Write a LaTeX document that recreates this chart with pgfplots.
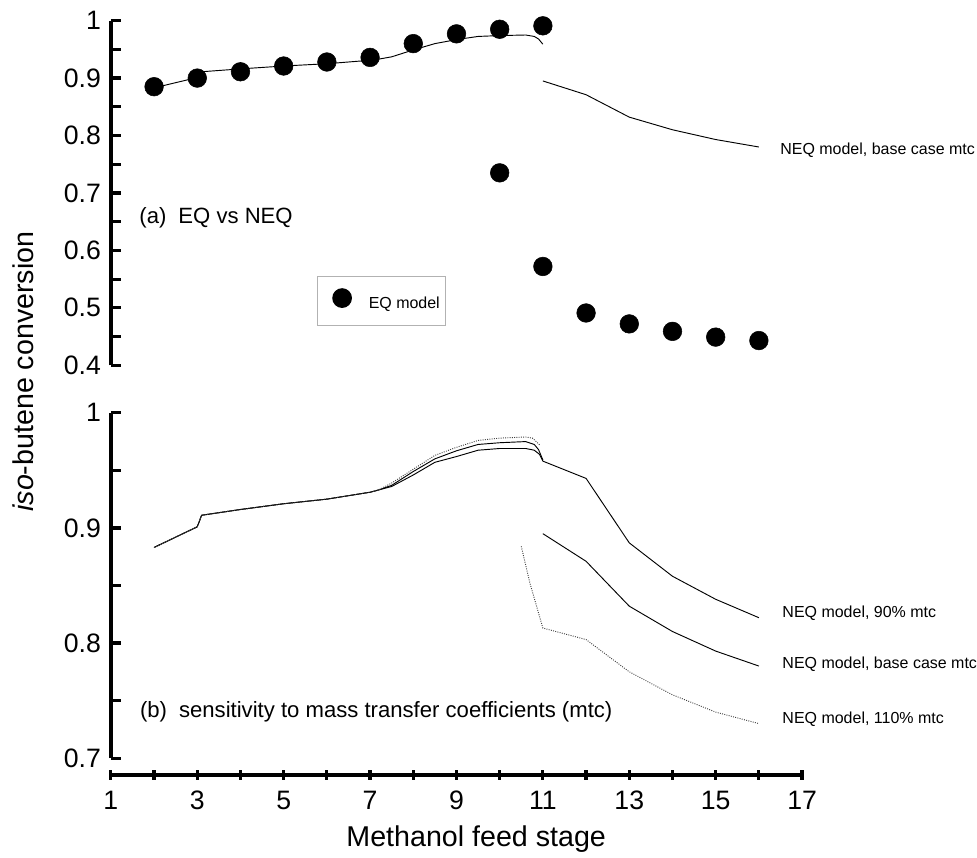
\documentclass[border=0pt]{standalone}
\usepackage{fontspec}
\setmainfont{Liberation Sans}
\usepackage{pgfplots}
\pgfplotsset{compat=1.18}

\pgfplotsset{
  panel/.style={
    scale only axis, width=519pt,
    xmin=1, xmax=17,
    axis y line=left,
    tick align=inside,
    major tick length=7.5pt, minor tick length=7.5pt,
    tick label style={font=\fontsize{20}{24}\selectfont},
    /pgf/number format/assume math mode=true,
    yticklabel style={/pgf/number format/fixed, /pgf/number format/precision=1, xshift=-4pt},
    clip=false,
  },
  thicklines/.style={
    every outer x axis line/.append style={-, line width=3pt},
    every outer y axis line/.append style={-, line width=3pt},
    every inner x axis line/.append style={-, line width=3pt},
    every inner y axis line/.append style={-, line width=3pt},
    every tick/.append style={black, line width=2.4pt},
    major tick style={black, line width=2.4pt},
    minor tick style={black, line width=2.4pt},
  },
  neq/.style={black, line width=0.7pt},
  neqdot/.style={black!75, line width=0.7pt, densely dotted},
}

\begin{document}
\begin{tikzpicture}
\path (-83.25pt,15.5pt) rectangle (649.5pt,-625pt);

% (a) EQ vs NEQ
\begin{axis}[panel, at={(0pt,0pt)}, anchor=north west,
  height=258.75pt, ymin=0.4, ymax=1,
  axis x line=none,
  thicklines,
  ytick={0.4,0.5,0.6,0.7,0.8,0.9,1},
  minor ytick={0.45,0.55,0.65,0.75,0.85,0.95},
  legend style={at={(axis cs:5.77,0.555)}, anchor=north west,
    draw=gray!60, line width=0.8pt, font=\fontsize{12}{14}\selectfont,
    inner xsep=2pt, inner ysep=9pt},
  legend image code/.code={\path[draw=none, fill=none] (0pt,-3pt) rectangle (34.5pt,3pt);
    \draw[#1] plot coordinates {(16.5pt,4.5pt)};},
]
\addplot[only marks, mark=*, mark size=7pt, black] coordinates {
  (2,0.885) (3,0.900) (4,0.911) (5,0.921) (6,0.928) (7,0.936) (8,0.960)
  (9,0.977) (10,0.985) (11,0.991) (10,0.735) (11,0.572) (12,0.491)
  (13,0.472) (14,0.459) (15,0.449) (16,0.443)
};
\addlegendentry{EQ model}
\addplot[neq, forget plot] coordinates {
  (2,0.883) (3,0.901) (3.1,0.911) (4,0.916) (5,0.921) (6,0.925) (7,0.931)
  (7.2,0.933) (7.5,0.937) (8,0.949) (8.5,0.960) (9,0.967) (9.5,0.9725)
  (10,0.974) (10.6,0.975) (10.8,0.9725) (10.9,0.968) (11,0.959)
};
\addplot[neq, forget plot] coordinates {
  (11,0.895) (12,0.871) (13,0.832) (14,0.810) (15,0.793) (16,0.780)
};
\node[anchor=west, inner sep=0pt, font=\fontsize{12}{14}\selectfont] at (axis cs:16.49,0.775) {NEQ model, base case mtc};
\node[anchor=west, inner sep=0pt, font=\fontsize{16.6}{19}\selectfont] at (axis cs:1.655,0.657) {(a)\hspace{9pt}EQ vs NEQ};
\end{axis}

% (b) sensitivity
\begin{axis}[panel, at={(0pt,-294.45pt)}, anchor=north west,
  height=259.3pt, ymin=0.7, ymax=1,
  axis x line=bottom, axis x line shift=12.45pt,
  thicklines,
  xtick={1,3,...,17}, minor xtick={2,4,...,16},
  xticklabel style={yshift=-5pt},
  ytick={0.7,0.8,0.9,1},
  minor ytick={0.75,0.85,0.95},
]
% 90% mtc
\addplot[neq] coordinates {
  (2,0.883) (3,0.901) (3.1,0.911) (4,0.916) (5,0.921) (6,0.925) (7,0.931)
  (7.2,0.933) (7.5,0.936) (8,0.946) (8.5,0.957) (9,0.962) (9.5,0.9675)
  (10,0.969) (10.6,0.969) (10.8,0.9675) (10.92,0.964) (11,0.958)
  (12,0.943) (13,0.887) (14,0.858) (15,0.838) (16,0.822)
};
% base case mtc
\addplot[neq] coordinates {
  (2,0.883) (3,0.901) (3.1,0.911) (4,0.916) (5,0.921) (6,0.925) (7,0.931)
  (7.2,0.933) (7.5,0.937) (8,0.949) (8.5,0.960) (9,0.967) (9.5,0.9725)
  (10,0.974) (10.6,0.975) (10.8,0.9725) (10.9,0.968) (11,0.959)
};
\addplot[neq] coordinates {
  (11,0.895) (12,0.871) (13,0.832) (14,0.810) (15,0.793) (16,0.780)
};
% 110% mtc
\addplot[neqdot] coordinates {
  (2,0.883) (3,0.901) (3.1,0.911) (4,0.916) (5,0.921) (6,0.925) (7,0.931)
  (7.2,0.933) (7.5,0.939) (8,0.951) (8.5,0.963) (9,0.970) (9.5,0.976)
  (10,0.978) (10.6,0.979) (10.76,0.978) (10.93,0.972)
};
\addplot[neqdot] coordinates {
  (10.5,0.884) (10.7,0.852) (11,0.813) (12,0.803) (13,0.775) (14,0.755)
  (15,0.740) (16,0.730)
};
\node[anchor=west, inner sep=0pt, font=\fontsize{12}{14}\selectfont] at (axis cs:16.54,0.826) {NEQ model, 90\% mtc};
\node[anchor=west, inner sep=0pt, font=\fontsize{12}{14}\selectfont] at (axis cs:16.54,0.782) {NEQ model, base case mtc};
\node[anchor=west, inner sep=0pt, font=\fontsize{12}{14}\selectfont] at (axis cs:16.54,0.734) {NEQ model, 110\% mtc};
\node[anchor=west, inner sep=0pt, font=\fontsize{16.6}{19}\selectfont] at (axis cs:1.67,0.740) {(b)\hspace{9pt}sensitivity to mass transfer coefficients (mtc)};
\end{axis}

\node[rotate=90, anchor=base, font=\fontsize{21.5}{25}\selectfont] at (-58.3pt,-263.5pt) {\textit{iso}-butene conversion};
\node[anchor=base, font=\fontsize{21.5}{25}\selectfont] at (274.3pt,-620.25pt) {Methanol feed stage};
\end{tikzpicture}
\end{document}
